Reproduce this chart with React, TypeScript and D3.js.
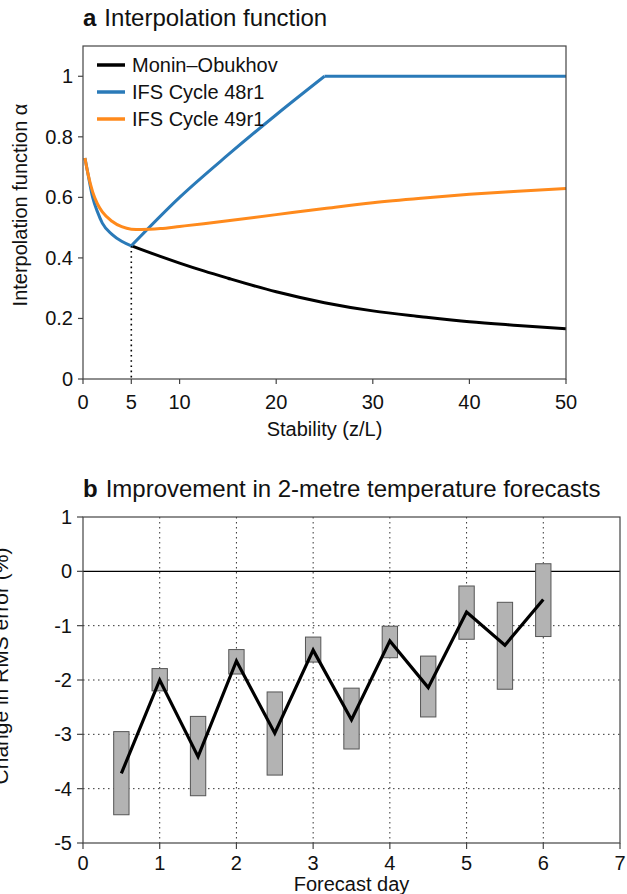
import { useEffect } from 'react';
import * as d3 from 'd3';

// panel a: interpolation function vs stability
const stability = [0.2, 0.5, 1, 1.5, 2, 3, 4, 5, 6, 8, 10, 12.5, 15, 20, 25, 30, 35, 40, 45, 50];
const moninObukhov = [0.73, 0.68, 0.6, 0.552, 0.515, 0.478, 0.455, 0.44, 0.428, 0.405, 0.383, 0.357, 0.333, 0.288, 0.252, 0.225, 0.206, 0.189, 0.177, 0.166];
const cycle49r1 = [0.73, 0.68, 0.618, 0.578, 0.552, 0.521, 0.503, 0.495, 0.494, 0.497, 0.504, 0.513, 0.523, 0.543, 0.563, 0.582, 0.597, 0.61, 0.62, 0.629];
const cycle48r1Stability = [5, 10, 15, 20, 25];
const cycle48r1Rise = [0.44, 0.6, 0.74, 0.873, 1];
const cycle48r1Cap = [25, 50];
const xTicksA = [0, 5, 10, 20, 30, 40, 50];
const yTicksA = [0, 0.2, 0.4, 0.6, 0.8, 1];

// panel b: change in RMS error per forecast day
const forecastDay = [0.5, 1, 1.5, 2, 2.5, 3, 3.5, 4, 4.5, 5, 5.5, 6];
const meanChange = [-3.72, -2.0, -3.41, -1.65, -2.98, -1.45, -2.73, -1.28, -2.14, -0.75, -1.36, -0.52];
const upperChange = [-2.95, -1.79, -2.67, -1.44, -2.22, -1.21, -2.15, -1.01, -1.56, -0.27, -0.57, 0.14];
const lowerChange = [-4.48, -2.2, -4.13, -1.89, -3.75, -1.67, -3.27, -1.59, -2.68, -1.25, -2.17, -1.2];
const xTicksB = [0, 1, 2, 3, 4, 5, 6, 7];
const yTicksB = [-5, -4, -3, -2, -1, 0, 1];

const FONT = 'Liberation Sans, Arial, Helvetica, sans-serif';
const BLUE = '#2a7ab8';
const ORANGE = '#ff8a1c';

export default function App() {
  useEffect(() => {
    document.body.style.margin = '0';
  }, []);

  // panel a scales
  const xa = d3.scaleLinear().domain([0, 50]).range([83, 566]);
  const ya = d3.scaleLinear().domain([0, 1.1]).range([379, 46]);
  const lineA = d3.line<[number, number]>()
    .x(d => xa(d[0]))
    .y(d => ya(d[1]))
    .curve(d3.curveMonotoneX);
  const lineStraight = d3.line<[number, number]>()
    .x(d => xa(d[0]))
    .y(d => ya(d[1]));

  const moPts = stability.map((s, i) => [s, moninObukhov[i]] as [number, number]);
  const orPts = stability.map((s, i) => [s, cycle49r1[i]] as [number, number]);
  const bluLow = moPts.filter(d => d[0] <= 5);
  const bluRise = cycle48r1Stability.map((s, i) => [s, cycle48r1Rise[i]] as [number, number]);
  const bluCap = cycle48r1Cap.map(s => [s, 1] as [number, number]);
  const kink = moPts.find(d => d[0] === 5)!;

  // panel b scales
  const xb = d3.scaleLinear().domain([0, 7]).range([83, 620]);
  const yb = d3.scaleLinear().domain([-5, 1]).range([843, 517]);
  const barW = xb(0.2) - xb(0);
  const lineB = d3.line<number>()
    .x((_, i) => xb(forecastDay[i]))
    .y(d => yb(d));

  const legend = [
    { label: 'Monin–Obukhov', color: '#000' },
    { label: 'IFS Cycle 48r1', color: BLUE },
    { label: 'IFS Cycle 49r1', color: ORANGE },
  ];

  return (
    <svg width={627} height={894} style={{ display: 'block', background: '#fff' }} fontFamily={FONT}>
      {/* ---------- panel a ---------- */}
      <text x={83} y={26} fontSize={24} fill="#111">
        <tspan fontWeight="bold">a</tspan>
        <tspan dx={8}>Interpolation function</tspan>
      </text>

      {/* dotted marker at z/L = 5 */}
      <line x1={xa(5)} x2={xa(5)} y1={ya(kink[1])} y2={ya(0)} stroke="#000" strokeWidth={1.6} strokeDasharray="1.6,3.6" />

      <path d={lineA(moPts.filter(d => d[0] >= 5)) || ''} fill="none" stroke="#000" strokeWidth={3} />
      <path d={lineA(bluLow) || ''} fill="none" stroke={BLUE} strokeWidth={3} />
      <path d={lineA(bluRise) || ''} fill="none" stroke={BLUE} strokeWidth={3} />
      <path d={lineStraight(bluCap) || ''} fill="none" stroke={BLUE} strokeWidth={3} />
      <path d={lineA(orPts) || ''} fill="none" stroke={ORANGE} strokeWidth={3} />

      {/* frame */}
      <rect x={83} y={46} width={566 - 83} height={379 - 46} fill="none" stroke="#444" strokeWidth={1.2} />
      {yTicksA.map(t => (
        <g key={'ya' + t}>
          <line x1={78} x2={83} y1={ya(t)} y2={ya(t)} stroke="#444" strokeWidth={1.2} />
          <text x={73} y={ya(t)} dy="0.35em" textAnchor="end" fontSize={20} fill="#111">{String(t)}</text>
        </g>
      ))}
      {xTicksA.map(t => (
        <g key={'xa' + t}>
          <line x1={xa(t)} x2={xa(t)} y1={379} y2={384} stroke="#444" strokeWidth={1.2} />
          <text x={xa(t)} y={409} textAnchor="middle" fontSize={20} fill="#111">{String(t)}</text>
        </g>
      ))}
      <text x={xa(25)} y={436} textAnchor="middle" fontSize={20} fill="#111">Stability (z/L)</text>
      <text transform="translate(27,205) rotate(-90)" textAnchor="middle" fontSize={20} fill="#111">Interpolation function α</text>

      {legend.map((l, i) => (
        <g key={l.label} transform={`translate(97,${65 + i * 27})`}>
          <line x1={0} x2={28} y1={0} y2={0} stroke={l.color} strokeWidth={3.5} />
          <text x={35} y={0} dy="0.35em" fontSize={20} fill="#111">{l.label}</text>
        </g>
      ))}

      {/* ---------- panel b ---------- */}
      <text x={83} y={497} fontSize={24} fill="#111">
        <tspan fontWeight="bold">b</tspan>
        <tspan dx={8}>Improvement in 2-metre temperature forecasts</tspan>
      </text>

      {/* dotted grid */}
      {xTicksB.filter(t => t > 0 && t < 7).map(t => (
        <line key={'gx' + t} x1={xb(t)} x2={xb(t)} y1={517} y2={843} stroke="#333" strokeWidth={1} strokeDasharray="1.5,3.5" />
      ))}
      {yTicksB.filter(t => t < 0 && t > -5).map(t => (
        <line key={'gy' + t} x1={83} x2={620} y1={yb(t)} y2={yb(t)} stroke="#333" strokeWidth={1} strokeDasharray="1.5,3.5" />
      ))}
      <line x1={83} x2={620} y1={yb(0)} y2={yb(0)} stroke="#000" strokeWidth={1.2} />

      {forecastDay.map((d, i) => (
        <rect key={'bar' + d} x={xb(d) - barW / 2} y={yb(upperChange[i])} width={barW}
          height={yb(lowerChange[i]) - yb(upperChange[i])} fill="#b3b3b3" stroke="#555" strokeWidth={1} />
      ))}
      <path d={lineB(meanChange) || ''} fill="none" stroke="#000" strokeWidth={3.2} strokeLinejoin="miter" />

      <rect x={83} y={517} width={620 - 83} height={843 - 517} fill="none" stroke="#444" strokeWidth={1.2} />
      {yTicksB.map(t => (
        <g key={'yb' + t}>
          <line x1={77} x2={83} y1={yb(t)} y2={yb(t)} stroke="#444" strokeWidth={1.2} />
          <text x={72} y={yb(t)} dy="0.35em" textAnchor="end" fontSize={20} fill="#111">{String(t)}</text>
        </g>
      ))}
      {xTicksB.map(t => (
        <g key={'xb' + t}>
          <line x1={xb(t)} x2={xb(t)} y1={843} y2={849} stroke="#444" strokeWidth={1.2} />
          <text x={xb(t)} y={870} textAnchor="middle" fontSize={20} fill="#111">{String(t)}</text>
        </g>
      ))}
      <text x={xb(3.5)} y={891} textAnchor="middle" fontSize={20} fill="#111">Forecast day</text>
      <text transform="translate(8,666) rotate(-90)" textAnchor="middle" fontSize={21} fill="#111">Change in RMS error (%)</text>
    </svg>
  );
}
